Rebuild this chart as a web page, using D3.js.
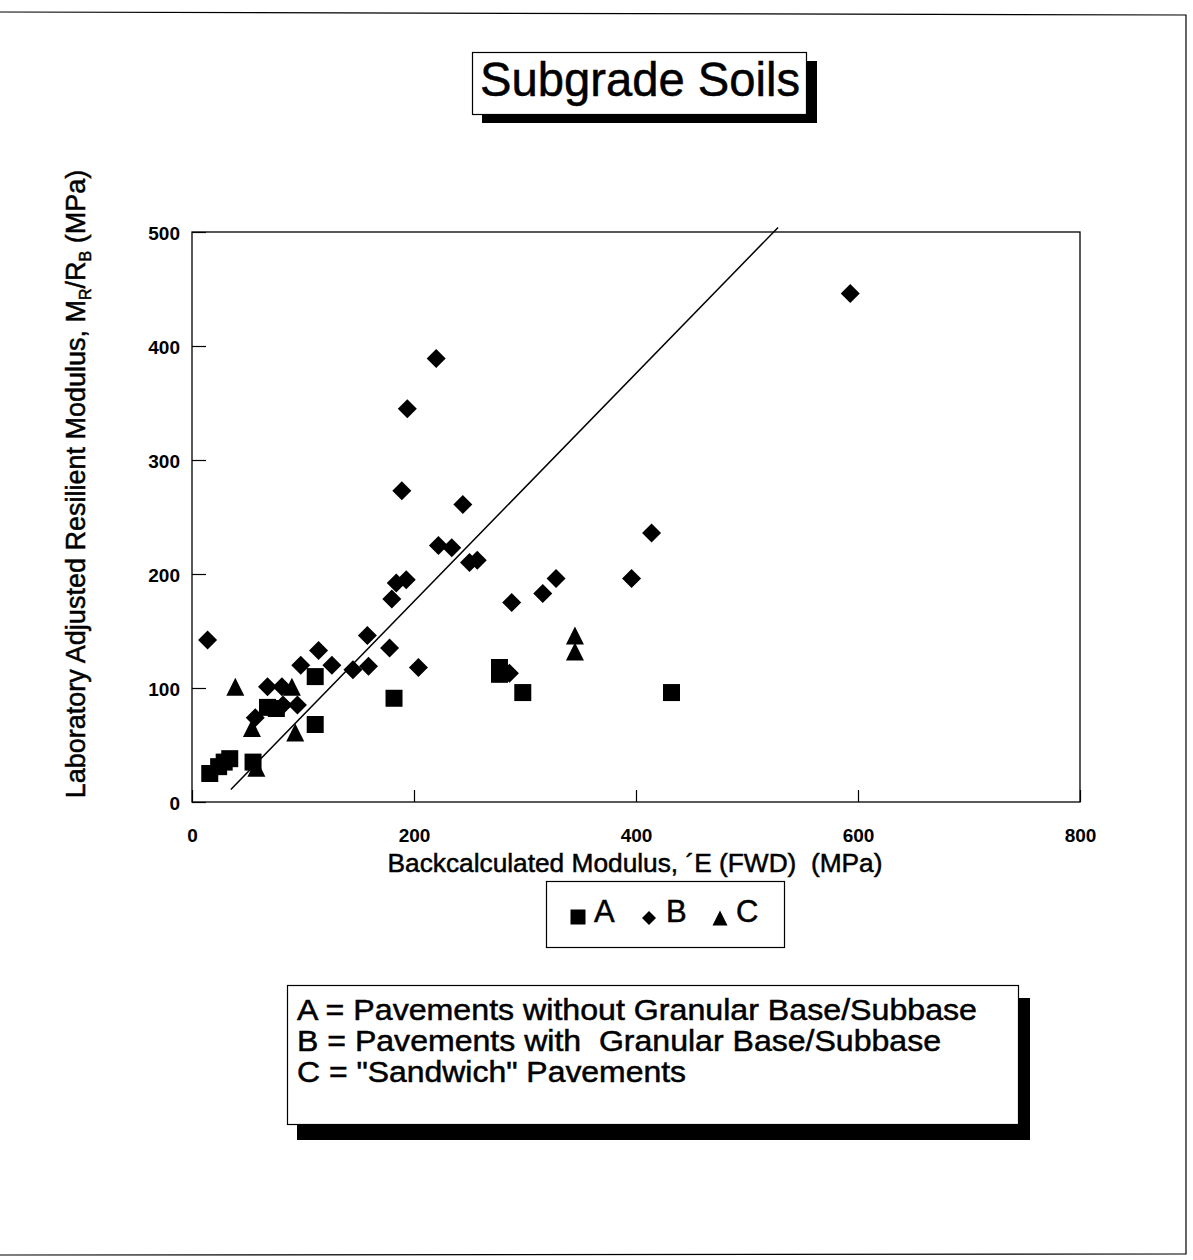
<!DOCTYPE html>
<html>
<head>
<meta charset="utf-8">
<script src="https://cdn.jsdelivr.net/npm/d3@7"></script>
<style>
  html, body { margin: 0; padding: 0; background: #fff; }
  svg { display: block; }
  text { font-family: "Liberation Sans", Arial, Helvetica, sans-serif; fill: #000; }
  .heavy { stroke: #000; stroke-width: 0.5px; }
</style>
</head>
<body>
<svg id="chart" width="1193" height="1260"></svg>
<script>
// ---------- data ----------
const xTicks = [0, 200, 400, 600, 800];
const yTicks = [0, 100, 200, 300, 400, 500];

// A = Pavements without Granular Base/Subbase (squares)
const seriesA = [
  [16, 25], [24, 31], [29, 35], [34, 38], [55, 35],
  [68, 83], [76, 82], [111, 110], [111, 68], [182, 91],
  [277, 118], [277, 112], [298, 96], [432, 96]
];
// B = Pavements with Granular Base/Subbase (diamonds)
const seriesB = [
  [14, 142], [220, 389], [194, 345], [189, 273], [244, 261],
  [222, 225], [234, 223], [250, 210], [257, 212], [184, 192],
  [193, 195], [180, 178], [288, 175], [316, 183], [328, 196],
  [396, 196], [414, 236], [593, 446], [158, 146], [178, 135],
  [114, 133], [98, 120], [126, 120], [145, 116], [159, 119],
  [204, 118], [68, 101], [81, 101], [82, 85], [95, 85],
  [57, 74], [286, 113]
];
// C = "Sandwich" Pavements (triangles)
const seriesC = [
  [39, 101], [90, 101], [54, 65], [93, 61], [58, 30],
  [345, 146], [345, 132]
];
// fitted line end points
const lineX = [35, 528];
const lineY = [11, 504];

const legendKeys = ["A", "B", "C"];
const legendNotes = [
  "A = Pavements without Granular Base/Subbase",
  "B = Pavements with  Granular Base/Subbase",
  "C = \"Sandwich\" Pavements"
];

// ---------- drawing ----------
const svg = d3.select("#chart");
const x = d3.scaleLinear().domain([0, 800]).range([192, 1080]);
const y = d3.scaleLinear().domain([0, 500]).range([802, 232]);

// page border
svg.append("path")
  .attr("d", "M0,12 L1186,15 L1186,1254 L0,1255")
  .attr("fill", "none").attr("stroke", "#000").attr("stroke-width", 1.2);

// title box with shadow
svg.append("rect").attr("x", 482).attr("y", 61).attr("width", 335).attr("height", 62).attr("fill", "#000");
svg.append("rect").attr("x", 472.5).attr("y", 52.5).attr("width", 334).attr("height", 62)
  .attr("fill", "#fff").attr("stroke", "#000").attr("stroke-width", 1.2);
svg.append("text").attr("class", "heavy").attr("x", 480).attr("y", 96)
  .attr("font-size", 48).attr("textLength", 320).attr("lengthAdjust", "spacingAndGlyphs")
  .text("Subgrade Soils");

// plot frame
svg.append("rect")
  .attr("x", x(0)).attr("y", y(500))
  .attr("width", x(800) - x(0)).attr("height", y(0) - y(500))
  .attr("fill", "none").attr("stroke", "#000").attr("stroke-width", 1.3);

// axes
const gx = svg.append("g").attr("transform", `translate(0,${y(0)})`)
  .call(d3.axisBottom(x).tickValues(xTicks).tickSize(-12).tickFormat(d3.format("d")));
gx.select(".domain").remove();
gx.selectAll("line").attr("stroke-width", 1.2);
gx.selectAll("text").attr("y", 40).attr("dy", 0)
  .attr("font-size", 19).attr("font-weight", "bold").attr("font-family", "Liberation Sans, Arial, sans-serif");

const gy = svg.append("g").attr("transform", `translate(${x(0)},0)`)
  .call(d3.axisLeft(y).tickValues(yTicks).tickSize(-14).tickFormat(d3.format("d")));
gy.select(".domain").remove();
gy.selectAll("line").attr("stroke-width", 1.2);
gy.selectAll("text").attr("x", -12).attr("dy", 0).attr("y", 7)
  .attr("font-size", 19).attr("font-weight", "bold").attr("font-family", "Liberation Sans, Arial, sans-serif");

// axis titles
svg.append("text").attr("class", "heavy")
  .attr("x", 635).attr("y", 872).attr("text-anchor", "middle")
  .attr("font-size", 26).attr("textLength", 495).attr("lengthAdjust", "spacingAndGlyphs")
  .style("white-space", "pre")
  .text("Backcalculated Modulus, \u00B4E (FWD)  (MPa)");

const yl = svg.append("text").attr("class", "heavy")
  .attr("transform", "translate(85,484) rotate(-90)")
  .attr("text-anchor", "middle").attr("font-size", 27);
yl.append("tspan").text("Laboratory Adjusted Resilient Modulus, M");
yl.append("tspan").attr("font-size", 16).attr("dy", 6).text("R");
yl.append("tspan").attr("dy", -6).text("/R");
yl.append("tspan").attr("font-size", 16).attr("dy", 6).text("B");
yl.append("tspan").attr("dy", -6).text(" (MPa)");

// marker paths
function squarePath(s) { const h = s / 2; return `M${-h},${-h}H${h}V${h}H${-h}Z`; }
function diamondPath(s) { const h = s / 2; return `M0,${-h}L${h},0L0,${h}L${-h},0Z`; }
function trianglePath(s) { const h = s / 2; return `M0,${-h}L${h},${h}L${-h},${h}Z`; }
const markers = { A: squarePath, B: diamondPath, C: trianglePath };

// fitted line
svg.append("line")
  .attr("x1", x(lineX[0])).attr("y1", y(lineY[0]))
  .attr("x2", x(lineX[1])).attr("y2", y(lineY[1]))
  .attr("stroke", "#000").attr("stroke-width", 1.5);

// points
const pts = svg.append("g");
pts.selectAll("path.b").data(seriesB).join("path").attr("class", "b")
  .attr("d", diamondPath(19)).attr("transform", d => `translate(${x(d[0])},${y(d[1])})`);
pts.selectAll("path.a").data(seriesA).join("path").attr("class", "a")
  .attr("d", squarePath(17)).attr("transform", d => `translate(${x(d[0])},${y(d[1])})`);
pts.selectAll("path.c").data(seriesC).join("path").attr("class", "c")
  .attr("d", trianglePath(18)).attr("transform", d => `translate(${x(d[0])},${y(d[1])})`);

// legend box 1
svg.append("rect").attr("x", 546.5).attr("y", 881.5).attr("width", 238).attr("height", 66)
  .attr("fill", "#fff").attr("stroke", "#000").attr("stroke-width", 1.2);
const legPos = [{ mx: 578, tx: 594 }, { mx: 649, tx: 666 }, { mx: 720, tx: 736 }];
const lg = svg.append("g");
lg.selectAll("path").data(legendKeys).join("path")
  .attr("d", (k) => markers[k](k === "B" ? 14 : 15))
  .attr("transform", (k, i) => `translate(${legPos[i].mx},${k === "A" ? 917 : 918})`);
lg.selectAll("text").data(legendKeys).join("text").attr("class", "heavy")
  .attr("x", (k, i) => legPos[i].tx).attr("y", 922)
  .attr("font-size", 31).text(k => k);

// legend box 2 with shadow
svg.append("rect").attr("x", 297).attr("y", 998).attr("width", 733).attr("height", 142).attr("fill", "#000");
svg.append("rect").attr("x", 287.5).attr("y", 985.5).attr("width", 731).attr("height", 139)
  .attr("fill", "#fff").attr("stroke", "#000").attr("stroke-width", 1.2);
svg.append("g").selectAll("text").data(legendNotes).join("text").attr("class", "heavy")
  .attr("x", 297).attr("y", (d, i) => 1020 + i * 31)
  .attr("font-size", 29).style("white-space", "pre")
  .attr("textLength", (d, i) => [680, 644, 389][i]).attr("lengthAdjust", "spacingAndGlyphs")
  .text(d => d);
</script>
</body>
</html>
